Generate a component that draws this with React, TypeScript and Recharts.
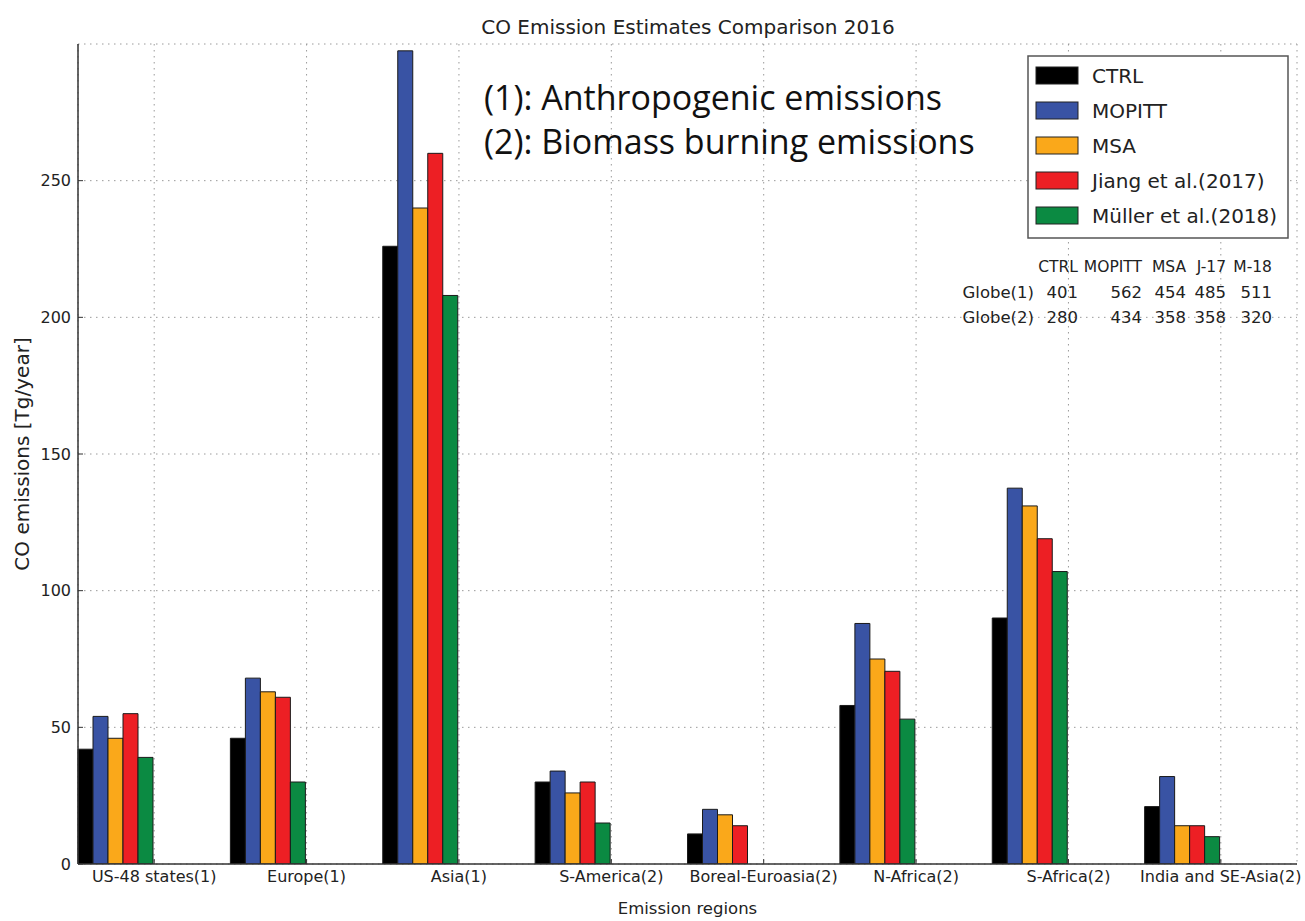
import React from 'react';
import { BarChart, Bar, XAxis, YAxis, CartesianGrid, ReferenceArea } from 'recharts';

const regions = ['US-48 states(1)', 'Europe(1)', 'Asia(1)', 'S-America(2)', 'Boreal-Euroasia(2)', 'N-Africa(2)', 'S-Africa(2)', 'India and SE-Asia(2)'];
const ctrl = [42, 46, 226, 30, 11, 58, 90, 21];
const mopitt = [54, 68, 297.5, 34, 20, 88, 137.5, 32];
const msa = [46, 63, 240, 26, 18, 75, 131, 14];
const jiang = [55, 61, 260, 30, 14, 70.5, 119, 14];
const muller = [39, 30, 208, 15, 0, 53, 107, 10];

const seriesNames = ['CTRL', 'MOPITT', 'MSA', 'Jiang et al.(2017)', 'Müller et al.(2018)'];
const seriesKeys = ['ctrl', 'mopitt', 'msa', 'jiang', 'muller'];
const seriesColors = ['#000000', '#3953a4', '#faa81a', '#ed1f24', '#0b8a42'];
const yTicks = [0, 50, 100, 150, 200, 250];

const tableHeader = ['CTRL', 'MOPITT', 'MSA', 'J-17', 'M-18'];
const tableRowLabels = ['Globe(1)', 'Globe(2)'];
const globe1 = [401, 562, 454, 485, 511];
const globe2 = [280, 434, 358, 358, 320];

const notes = ['(1): Anthropogenic emissions', '(2): Biomass burning emissions'];
const title = 'CO Emission Estimates Comparison 2016';

const data = regions.map((r, i) => ({
  region: r,
  ctrl: ctrl[i],
  mopitt: mopitt[i],
  msa: msa[i],
  jiang: jiang[i],
  muller: muller[i],
}));

const padKeys = ['pad1', 'pad2', 'pad3', 'pad4', 'pad5'];
const FONT = 'DejaVu Sans, sans-serif';
const AX = '#333333';

export default function App() {
  const colRight = [1078, 1142, 1186, 1226, 1272];
  const tableRows = [globe1, globe2];
  return (
    <div style={{ position: 'absolute', left: 0, top: 0, width: 1305, height: 921, background: '#fff' }}>
      <BarChart
        width={1305}
        height={921}
        data={data}
        margin={{ top: 44, right: 8, bottom: 0, left: 0 }}
        barGap={0}
        barCategoryGap={0}
      >
        <XAxis
          dataKey="region"
          height={57}
          interval={0}
          tickSize={-5}
          tickMargin={12}
          axisLine={{ stroke: AX, strokeWidth: 1.5 }}
          tickLine={{ stroke: AX, strokeWidth: 1 }}
          tick={{ fill: '#222', fontSize: 16, fontFamily: FONT }}
          label={{ value: 'Emission regions', position: 'insideBottom', offset: 7, fill: '#222', fontSize: 16.5, fontFamily: FONT }}
        />
        <XAxis
          xAxisId="top"
          orientation="top"
          dataKey="region"
          height={0}
          interval={0}
          tickSize={-5}
          tickFormatter={() => ''}
          axisLine={{ stroke: AX, strokeWidth: 1.5 }}
          tickLine={{ stroke: AX, strokeWidth: 1 }}
        />
        <YAxis
          width={78}
          domain={[0, 300]}
          ticks={yTicks}
          allowDataOverflow
          tickSize={-5}
          tickMargin={12}
          axisLine={{ stroke: AX, strokeWidth: 1.5 }}
          tickLine={{ stroke: AX, strokeWidth: 1 }}
          tick={{ fill: '#222', fontSize: 16, fontFamily: FONT }}
          label={{ value: 'CO emissions [Tg/year]', angle: -90, position: 'center', dx: -17, dy: 0, fill: '#222', fontSize: 20, fontFamily: FONT }}
        />
        <YAxis
          yAxisId="right"
          orientation="right"
          width={0}
          domain={[0, 300]}
          ticks={yTicks}
          tickSize={-5}
          tickFormatter={() => ''}
          axisLine={{ stroke: AX, strokeWidth: 1.5 }}
          tickLine={{ stroke: AX, strokeWidth: 1 }}
        />
        {seriesKeys.map((k, i) => (
          <Bar key={k} dataKey={k} name={seriesNames[i]} fill={seriesColors[i]} stroke="#1a1a1a" strokeWidth={1} isAnimationActive={false} />
        ))}
        {padKeys.map((k) => (
          <Bar key={k} dataKey={k} fill="none" legendType="none" isAnimationActive={false} />
        ))}
        <CartesianGrid stroke="#9a9a9a" strokeDasharray="1.5 4.5" strokeWidth={1} />
        <ReferenceArea fill="none" stroke={AX} strokeWidth={1.5} ifOverflow="visible" />
      </BarChart>
      <svg width={1305} height={921} style={{ position: 'absolute', left: 0, top: 0, pointerEvents: 'none' }}>
        <text x={688} y={34} textAnchor="middle" fontFamily={FONT} fontSize={20} fill="#222">{title}</text>
        {notes.map((n, i) => (
          <text key={n} x={484} y={110 + i * 44} fontFamily="Open Sans, sans-serif" fontSize={34} fill="#111">{n}</text>
        ))}
        <rect x={1028} y={56} width={260} height={182} fill="#fff" stroke="#555" strokeWidth={1.5} />
        {seriesNames.map((n, i) => (
          <g key={n}>
            <rect x={1036} y={67 + i * 35} width={42} height={17} fill={seriesColors[i]} stroke="#222" strokeWidth={1} />
            <text x={1092} y={83 + i * 35} fontFamily={FONT} fontSize={20} fill="#222">{n}</text>
          </g>
        ))}
        {tableHeader.map((h, j) => (
          <text key={h} x={colRight[j]} y={272} textAnchor="end" fontFamily={FONT} fontSize={15.5} fill="#222">{h}</text>
        ))}
        {tableRows.map((row, r) => (
          <g key={r}>
            <text x={1034} y={298 + r * 25} textAnchor="end" fontFamily={FONT} fontSize={16.5} fill="#222">{tableRowLabels[r]}</text>
            {row.map((v, j) => (
              <text key={j} x={colRight[j]} y={298 + r * 25} textAnchor="end" fontFamily={FONT} fontSize={16.5} fill="#222">{v}</text>
            ))}
          </g>
        ))}
      </svg>
    </div>
  );
}
